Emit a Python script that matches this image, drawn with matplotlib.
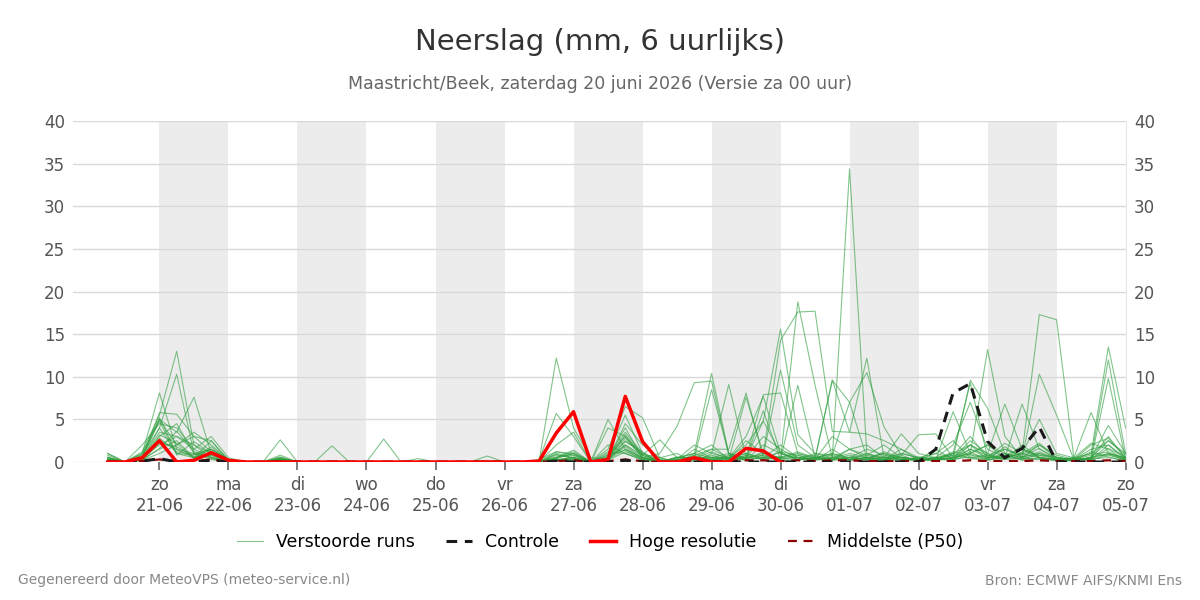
import numpy as np
import matplotlib
matplotlib.use("Agg")
import matplotlib.pyplot as plt
from matplotlib.lines import Line2D

# 6-hourly steps: 06h on 20-06 up to 00h on 05-07 (hours since 20-06 00h)
hours = np.arange(6, 361, 6)

day_labels = ["zo\n21-06", "ma\n22-06", "di\n23-06", "wo\n24-06", "do\n25-06",
              "vr\n26-06", "za\n27-06", "zo\n28-06", "ma\n29-06", "di\n30-06",
              "wo\n01-07", "do\n02-07", "vr\n03-07", "za\n04-07", "zo\n05-07"]

# ensemble members (mm per 6 h), 60 values each
members = [
    [1.0, 0, 1.2, 5.5, 13.0, 2.0, 0.5, 0.2, 0, 0, 0.3, 0,
     0, 0, 0, 0, 0, 0, 0, 0, 0, 0, 0, 0,
     0, 0, 1.0, 0.5, 0, 0.5, 3.5, 1.0, 0.3, 0, 0.8, 1.5,
     0.5, 2.0, 4.8, 15.6, 3.2, 1.0, 0.5, 1.5, 0.8, 0.5, 0.3, 0.2,
     0.3, 1.0, 2.0, 0.8, 1.5, 0.6, 1.0, 0.5, 0.2, 0.5, 2.5, 1.0],
    [0.5, 0, 0.8, 4.0, 10.3, 1.0, 0.3, 0, 0, 0, 0.5, 0,
     0, 0, 0, 0, 0, 0, 0, 0, 0, 0, 0, 0,
     0, 0, 12.2, 4.0, 0.5, 0.3, 2.0, 0.8, 0, 0.5, 1.0, 0.5,
     1.0, 0.3, 0.5, 1.2, 0.8, 0.3, 9.6, 7.0, 0.5, 0.3, 1.0, 0.5,
     0.2, 0.5, 9.6, 6.3, 1.0, 0.5, 2.0, 0.8, 0.3, 0.2, 1.0, 0.5],
    [0.8, 0, 1.0, 8.1, 1.5, 0.5, 1.5, 0.2, 0, 0, 0.4, 0,
     0, 0, 0, 0, 0, 0, 0, 0, 0, 0, 0, 0,
     0, 0.2, 5.7, 3.0, 0, 5.0, 1.5, 0.5, 1.0, 4.2, 9.3, 9.5,
     0.8, 0.5, 7.9, 8.1, 1.0, 0.5, 1.0, 0.3, 0.5, 0.2, 0.3, 0.2,
     0.3, 1.0, 0.5, 0.8, 0.3, 1.5, 0.5, 0.3, 0.2, 0.5, 1.0, 0.3],
    [0.3, 0, 0.5, 5.0, 3.5, 7.6, 1.0, 0.3, 0, 0, 0.2, 0,
     0, 0, 0, 0, 0, 0, 0, 0, 0, 0, 0, 0,
     0, 0.3, 1.2, 1.0, 0, 1.5, 6.5, 5.2, 0.5, 0, 1.0, 2.0,
     0.3, 7.6, 1.0, 14.3, 17.6, 17.7, 3.6, 3.5, 3.3, 2.5, 1.5, 0.5,
     1.0, 0.5, 1.0, 2.0, 0.5, 1.0, 2.2, 0.5, 0.2, 0.3, 2.0, 0.5],
    [1.0, 0, 0.5, 5.8, 5.6, 3.0, 2.5, 0.2, 0, 0, 0.8, 0,
     0, 0, 0, 0, 0, 0, 0, 0, 0, 0, 0, 0,
     0, 0, 0.5, 1.0, 0, 4.0, 3.0, 0.8, 2.6, 0.5, 0.5, 8.5,
     1.0, 0.5, 6.0, 0.3, 18.8, 9.0, 0.5, 1.0, 0.5, 1.0, 0.5, 0.3,
     1.5, 0.3, 2.0, 1.0, 6.8, 1.5, 0.8, 0.3, 0.5, 1.0, 13.5, 4.0],
    [0.3, 0, 2.0, 4.5, 4.0, 1.5, 3.0, 0.5, 0, 0, 2.6, 0,
     0, 0, 0, 0, 0, 0, 0, 0, 0, 0, 0, 0,
     0, 0, 0.3, 0.5, 0, 0.3, 4.5, 2.0, 0.5, 1.0, 0, 1.0,
     9.1, 0.5, 3.0, 1.5, 0.5, 0.3, 0.5, 34.4, 1.0, 0.5, 0.5, 0.3,
     0.2, 0.5, 1.5, 0.8, 0.5, 1.0, 5.0, 1.0, 0.5, 5.8, 1.0, 0.5],
    [0, 0, 1.0, 5.0, 2.0, 3.5, 2.0, 0.3, 0, 0, 0.5, 0,
     0, 1.9, 0, 0, 2.7, 0, 0, 0, 0, 0, 0.7, 0,
     0, 0, 2.0, 3.5, 0, 1.0, 5.5, 1.0, 0, 0.5, 1.0, 10.4,
     1.0, 0.5, 0.8, 10.8, 2.0, 0.5, 9.6, 3.5, 12.2, 0.5, 3.3, 1.0,
     0.5, 2.0, 7.0, 1.5, 0.5, 6.8, 1.5, 0.5, 0.3, 0.5, 12.0, 1.0],
    [0.5, 0, 0.3, 3.0, 4.5, 1.0, 1.5, 0.3, 0, 0, 0.3, 0,
     0, 0, 0, 0, 0, 0, 0, 0, 0, 0, 0, 0,
     0, 0, 0.5, 1.2, 0, 0.8, 3.0, 0.5, 0, 0.3, 2.0, 1.0,
     0.5, 3.0, 7.7, 1.0, 0.3, 1.0, 0.8, 7.0, 10.5, 4.1, 0.8, 3.2,
     3.3, 0.5, 1.0, 13.2, 3.0, 0.5, 10.3, 5.5, 0.3, 1.0, 2.5, 0.8],
    [0, 0, 0.5, 2.0, 3.0, 2.0, 1.0, 0.2, 0, 0, 0.3, 0,
     0, 0, 0, 0, 0, 0, 0, 0, 0, 0, 0.2, 0,
     0, 0, 0.8, 0.5, 0, 0.5, 2.5, 1.0, 0, 0.5, 0.5, 1.5,
     1.5, 8.1, 0.5, 0.3, 9.0, 0.5, 0.3, 0.5, 0.8, 2.0, 0.5, 0.3,
     0.5, 1.0, 9.3, 0.5, 0.5, 1.0, 17.3, 16.7, 0.5, 0.3, 9.8, 0.3],
    [0.3, 0, 0.3, 1.5, 2.5, 0.5, 1.0, 0, 0, 0, 0.2, 0,
     0, 0, 0, 0, 0, 0, 0, 0, 0, 0, 0, 0,
     0, 0, 0.3, 0.3, 0, 0.5, 2.0, 0.5, 0, 0.3, 0.5, 0.5,
     0.3, 0.5, 1.0, 0.5, 0.5, 0.3, 3.0, 1.5, 2.0, 0.5, 1.0, 0.5,
     0.3, 5.9, 1.0, 2.0, 1.0, 0.5, 1.2, 0.3, 0.2, 0.5, 4.3, 1.0],
    [0.2, 0, 0.5, 2.5, 1.5, 1.0, 0.8, 0, 0, 0, 0.4, 0,
     0, 0.1, 0, 0, 0, 0, 0, 0, 0, 0, 0, 0,
     0, 0, 0.4, 1.0, 0, 0.3, 1.5, 0.5, 0, 0.2, 0.5, 0.3,
     0.5, 1.0, 0.3, 0.5, 0.8, 0.2, 0.5, 0.3, 1.0, 0.3, 0.5, 0.2,
     0.3, 0.5, 2.5, 1.0, 0.3, 2.0, 0.5, 0.2, 0.3, 2.0, 2.8, 0.5],
    [0.5, 0, 0.2, 1.0, 2.0, 3.0, 1.2, 0, 0, 0, 0, 0,
     0, 0, 0, 0, 0, 0, 0.4, 0, 0, 0, 0, 0,
     0, 0, 0.2, 0.3, 0, 1.2, 1.0, 0.3, 0.5, 0, 0.8, 0.3,
     0.2, 0.5, 4.8, 1.0, 0.3, 0.5, 1.0, 0.5, 0.3, 1.2, 0.5, 0.3,
     1.0, 2.5, 0.5, 0.3, 1.8, 0.5, 0.3, 0.2, 0.5, 2.2, 1.5, 0.2],
    [0, 0, 0.3, 4.0, 1.0, 0.5, 2.5, 0.2, 0, 0, 0.3, 0,
     0, 0, 0, 0, 0, 0, 0, 0, 0, 0, 0, 0,
     0, 0.1, 0.6, 0.8, 0, 2.0, 1.0, 0.2, 0, 0, 1.5, 0.5,
     0.5, 1.0, 0.5, 2.0, 0.5, 0.3, 0.2, 1.5, 0.5, 0.3, 1.5, 0.2,
     0.2, 0.8, 3.0, 0.5, 0.8, 0.3, 1.0, 0.3, 0.2, 0.5, 3.0, 0.4],
    [0.2, 0, 0.5, 3.5, 3.0, 1.5, 0.5, 0, 0, 0, 0.2, 0,
     0, 0, 0, 0, 0, 0, 0, 0, 0, 0, 0, 0,
     0, 0, 0.3, 0.2, 0, 0.5, 4.0, 0.5, 0, 0.2, 0.3, 0.8,
     0.3, 2.5, 1.0, 0.5, 1.2, 0.5, 0.8, 0.3, 0.5, 0.5, 0.3, 0.5,
     0.5, 0.3, 1.5, 0.5, 2.2, 1.0, 0.5, 0.3, 0.3, 1.5, 2.0, 0.3],
    [0, 0, 0.8, 5.2, 1.0, 0.8, 1.5, 0.3, 0, 0, 0.6, 0,
     0, 0, 0, 0, 0, 0, 0, 0, 0, 0, 0, 0,
     0, 0, 1.2, 0.8, 0, 0.3, 3.2, 0.8, 0, 0.5, 0.5, 0.2,
     0.8, 0.3, 2.0, 1.0, 0.5, 0.8, 0.3, 0.5, 1.5, 0.8, 0.5, 0.3,
     0.3, 1.2, 0.8, 0.5, 1.5, 0.8, 2.0, 0.5, 0.3, 0.8, 1.2, 0.3],
    [0.4, 0, 0.2, 2.2, 1.8, 0.6, 0.8, 0.1, 0, 0, 0.1, 0,
     0, 0, 0, 0, 0, 0, 0, 0, 0, 0, 0, 0,
     0, 0, 0.2, 0.6, 0, 0.4, 1.8, 0.3, 0, 0.2, 0.2, 0.6,
     0.2, 0.3, 1.2, 0.3, 0.6, 0.2, 1.5, 0.2, 0.3, 0.2, 0.8, 0.1,
     0.6, 0.3, 1.2, 0.2, 0.8, 1.6, 0.6, 0.2, 0.1, 0.6, 0.9, 0.2],
    [0.1, 0, 0.4, 3.2, 2.2, 0.4, 1.8, 0.2, 0, 0, 0.2, 0,
     0, 0, 0, 0, 0, 0, 0, 0, 0, 0, 0, 0,
     0, 0, 0.9, 0.4, 0, 0.2, 2.4, 1.2, 0, 0, 0.6, 0.2,
     0.4, 0.6, 0.3, 1.2, 0.2, 0.6, 0.4, 0.8, 0.2, 0.6, 0.3, 0.4,
     0.2, 0.6, 2.0, 0.3, 0.4, 0.6, 1.6, 0.3, 0.2, 1.2, 0.6, 0.1],
    [0.6, 0, 0.2, 1.6, 3.6, 1.2, 0.4, 0, 0, 0, 0.1, 0,
     0, 0, 0, 0, 0, 0, 0, 0, 0, 0, 0, 0,
     0, 0, 0.3, 0.2, 0, 0.8, 1.4, 0.2, 0.3, 0, 0.3, 0.4,
     0.6, 0.2, 0.6, 0.4, 0.3, 0.3, 0.6, 0.2, 0.6, 0.3, 0.2, 0.6,
     0.3, 0.2, 0.9, 0.6, 0.3, 0.4, 0.8, 0.6, 0.2, 0.3, 1.6, 0.6],
    [0.2, 0, 0.6, 4.8, 0.8, 2.4, 1.0, 0.2, 0, 0, 0.2, 0,
     0, 0, 0, 0, 0, 0, 0, 0, 0, 0, 0, 0,
     0, 0, 0.5, 1.4, 0, 0.6, 2.8, 0.6, 0, 0.3, 0.4, 1.2,
     0.3, 0.8, 0.4, 0.6, 1.0, 0.4, 0.2, 0.3, 0.4, 1.0, 0.2, 0.3,
     0.4, 0.3, 0.6, 0.4, 1.0, 0.2, 0.4, 0.3, 0.4, 0.2, 0.8, 0.3],
    [0.3, 0, 0.3, 2.8, 1.2, 0.9, 0.6, 0, 0, 0, 0.4, 0,
     0, 0, 0, 0, 0, 0, 0, 0, 0, 0, 0, 0,
     0, 0, 0.2, 0.5, 0, 0.2, 1.2, 0.4, 0, 0.6, 0.3, 0.2,
     0.2, 0.4, 0.8, 0.2, 0.2, 0.5, 0.3, 0.6, 0.3, 0.2, 0.6, 0.2,
     0.5, 0.8, 0.4, 0.2, 0.6, 0.3, 0.5, 0.2, 0.3, 0.4, 0.5, 0.2],
]

control = [0, 0, 0.1, 0.4, 0, 0, 0.2, 0, 0, 0, 0, 0,
           0, 0, 0, 0, 0, 0, 0, 0, 0, 0, 0, 0,
           0, 0, 0.1, 0, 0, 0, 0.2, 0, 0, 0, 0, 0,
           0, 0, 0, 0, 0, 0, 0, 0, 0, 0, 0, 0,
           1.5, 8.1, 9.2, 2.4, 0.5, 1.6, 4.1, 0, 0, 0, 0, 0]

hres = [0, 0, 0.5, 2.5, 0, 0.2, 1.1, 0.2, 0, 0, 0, 0,
        0, 0, 0, 0, 0, 0, 0, 0, 0, 0, 0, 0,
        0, 0.1, 3.4, 5.9, 0, 0.3, 7.7, 2.4, 0, 0, 0.5, 0,
        0, 1.6, 1.3, 0]

median = [0, 0, 0.1, 0.3, 0.1, 0.1, 0.3, 0, 0, 0, 0, 0,
          0, 0, 0, 0, 0, 0, 0, 0, 0, 0, 0, 0,
          0, 0, 0.1, 0.2, 0, 0.1, 0.3, 0.1, 0, 0, 0.1, 0.1,
          0.1, 0.2, 0.2, 0.1, 0.2, 0.1, 0.2, 0.2, 0.1, 0.1, 0.1, 0.1,
          0.1, 0.1, 0.2, 0.1, 0.1, 0.1, 0.2, 0.1, 0.1, 0.1, 0.2, 0.1]

fig = plt.figure(figsize=(12, 6), dpi=100)
ax = fig.add_axes([0.061, 0.23, 0.877, 0.568])

# alternate day shading
for d in range(1, 15, 2):
    ax.axvspan(d * 24, (d + 1) * 24, color="#ececec", lw=0, zorder=0)

for m in members:
    ax.plot(hours, m, color="#2e9e3e", alpha=0.6, lw=0.8, zorder=2)

ax.plot(hours, median, color="#8b0000", lw=1.6, ls=(0, (4, 3)), zorder=3)
ax.plot(hours, control, color="#1a1a1a", lw=2.2, ls=(0, (3.5, 2.5)), zorder=4)
ax.plot(hours[:len(hres)], hres, color="#ff0000", lw=2.5, zorder=5)

ax.set_xlim(-6, 360)
ax.set_ylim(0, 40)
ax.set_yticks(range(0, 41, 5))
ax.set_xticks(np.arange(24, 361, 24))
ax.set_xticklabels(day_labels)
ax.yaxis.grid(True, color="#d9d9d9", lw=1)
ax.set_axisbelow(True)
for s in ["top", "left", "bottom"]:
    ax.spines[s].set_visible(False)
ax.spines["right"].set_color("#e6e6e6")
ax.tick_params(axis="y", length=0, labelsize=12, labelcolor="#555555",
               labelright=True, pad=6)
ax.tick_params(axis="x", length=6, color="#666666", width=1.2,
               labelsize=12, labelcolor="#555555", pad=4)

fig.text(0.5, 0.93, "Neerslag (mm, 6 uurlijks)", ha="center", va="center",
         fontsize=21, color="#333333")
fig.text(0.5, 0.86, "Maastricht/Beek, zaterdag 20 juni 2026 (Versie za 00 uur)",
         ha="center", va="center", fontsize=12.5, color="#666666")

handles = [
    Line2D([], [], color="#2e9e3e", alpha=0.6, lw=0.8),
    Line2D([], [], color="#1a1a1a", lw=2.2, ls=(0, (3.5, 2.5))),
    Line2D([], [], color="#ff0000", lw=2.5),
    Line2D([], [], color="#8b0000", lw=1.6, ls=(0, (4, 3))),
]
fig.legend(handles, ["Verstoorde runs", "Controle", "Hoge resolutie", "Middelste (P50)"],
           loc="center", bbox_to_anchor=(0.5, 0.097), ncol=4, frameon=False,
           fontsize=12.5, handlelength=1.5, handletextpad=0.75, columnspacing=1.8)

fig.text(0.015, 0.033, "Gegenereerd door MeteoVPS (meteo-service.nl)",
         ha="left", va="center", fontsize=10, color="#888888")
fig.text(0.985, 0.033, "Bron: ECMWF AIFS/KNMI Ens",
         ha="right", va="center", fontsize=10, color="#888888")

fig.savefig("out.png", dpi=100)
